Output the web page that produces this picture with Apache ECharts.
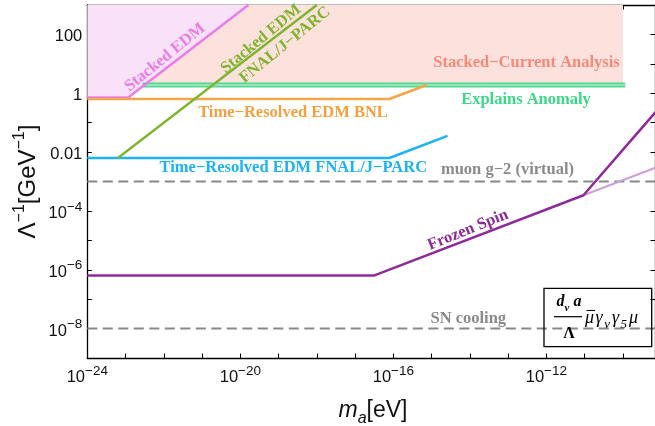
<!DOCTYPE html>
<html>
<head>
<meta charset="utf-8">
<script src="https://cdn.jsdelivr.net/npm/echarts@6/dist/echarts.min.js"></script>
<style>
  html, body { margin: 0; padding: 0; background: #fff; }
  #chart { width: 655px; height: 426px; }
</style>
</head>
<body>
<div id="chart"></div>
<script>
// Axion mass m_a in eV (x) against the coupling scale Λ^-1 in GeV^-1 (y)
const massRange = [1e-24, 6.9e-10];
const boundRange = [1e-9, 1e3];
const massLabelExponents = [-24, -20, -16, -12];
const boundLabelExponents = [2, 0, -2, -4, -6, -8];

// Stacked EDM reach (magenta, shaded above)
const stackedEdmMass = [1e-24, 1.17e-23, 1.62e-20];
const stackedEdmBound = [0.72, 0.72, 1000];

// Stacked EDM at FNAL/J-PARC
const stackedFnalMass = [6.3e-24, 1.0e-18];
const stackedFnalBound = [0.0063, 1000];

// Stacked-current analysis (shaded above)
const stackedCurrentMass = [2.8e-23, 1.0e-10];
const stackedCurrentBound = [1.9, 1.9];

// Parameter band that explains the anomaly
const anomalyMass = [2.8e-23, 1.15e-10];
const anomalyBound = [1.9, 1.9];

// Time-resolved EDM, BNL
const bnlMass = [1e-24, 7.9e-17, 7.4e-16];
const bnlBound = [0.64, 0.64, 1.9];

// Time-resolved EDM, FNAL/J-PARC
const fnalMass = [1e-24, 7.9e-17, 2.6e-15];
const fnalBound = [0.0063, 0.0063, 0.0355];

// Frozen spin method, with the two high-mass branches
const frozenMass = [1e-24, 3.2e-17, 9.3e-12, 1e-9];
const frozenBound = [6.4e-7, 6.4e-7, 3.4e-4, 0.38];
const frozenAltMass = [9.3e-12, 1e-9];
const frozenAltBound = [3.4e-4, 3.5e-3];

// Existing limits (dashed)
const muonG2Bound = 1e-3;
const snCoolingBound = 1e-8;

// Both axes are logarithmic: values are placed on decade (log10) value axes
const lg = v => Math.log10(v);
const pairs = (xs, ys) => xs.map((x, i) => [lg(x), lg(ys[i])]);
const asDecade = v => (Math.abs(v - Math.round(v)) < 1e-6 ? Math.round(v) : null);

const tickFont = 'Liberation Sans';
const tickRich = {
  b: { fontSize: 16.5, fontFamily: tickFont, color: '#111', lineHeight: 22, verticalAlign: 'bottom' },
  s: { fontSize: 13.5, fontFamily: tickFont, color: '#111', lineHeight: 10, verticalAlign: 'top' }
};
const powerLabel = e => '{b|10}{s|' + (e < 0 ? '\u2212' + (-e) : e) + '}';

const massLabel = v => {
  const e = asDecade(v);
  return e !== null && massLabelExponents.includes(e) ? powerLabel(e) : '';
};
const boundLabel = v => {
  const e = asDecade(v);
  if (e === null || !boundLabelExponents.includes(e)) return '';
  if (e === 2) return '{b|100}';
  if (e === 0) return '{b|1}';
  if (e === -2) return '{b|0.01}';
  return powerLabel(e);
};

const frameLine = { show: true, onZero: false, lineStyle: { color: '#000', width: 1.3 } };
const frameTick = { show: true, inside: true, length: 4.5, lineStyle: { color: '#000', width: 1 } };

const decadeAxis = (range, extra) => Object.assign({
  type: 'value', min: lg(range[0]), max: lg(range[1]), interval: 1,
  axisLine: frameLine, axisTick: frameTick, splitLine: { show: false },
  minorTick: { show: false }
}, extra);

const solid = (name, data, color, width, z) => ({
  name, type: 'line', data, symbol: 'none', silent: true, z: z || 3,
  lineStyle: { color, width }, animation: false
});
const shaded = (name, data, fill, z) => ({
  name, type: 'line', data, symbol: 'none', silent: true, z,
  lineStyle: { width: 0, opacity: 0 },
  areaStyle: { color: fill, opacity: 1, origin: 'end' }, animation: false
});
const dashed = (name, value) => ({
  name, type: 'line', data: [[lg(massRange[0]), lg(value)], [lg(massRange[1]), lg(value)]],
  symbol: 'none', silent: true, z: 2,
  lineStyle: { color: '#888', width: 2, type: [10, 5.5] }, animation: false
});

const serif = 'Liberation Serif';
const note = (text, x, y, color, deg) => ({
  type: 'text', x, y, rotation: (deg || 0) * Math.PI / 180, z: 20,
  style: { text, fill: color, font: 'bold 16.5px "' + serif + '"', align: 'center', verticalAlign: 'middle' }
});

const chart = echarts.init(document.getElementById('chart'), null, { renderer: 'canvas' });
chart.setOption({
  animation: false,
  backgroundColor: '#fff',
  grid: { left: 87.3, top: 5, right: 0, bottom: 68, outerBoundsMode: 'none' },
  xAxis: [
    decadeAxis(massRange, {
      position: 'bottom',
      axisLabel: { formatter: massLabel, rich: tickRich, margin: 6, showMinLabel: true, showMaxLabel: false }
    }),
    decadeAxis(massRange, { position: 'top', axisLabel: { show: false } })
  ],
  yAxis: [
    decadeAxis(boundRange, {
      position: 'left',
      axisLabel: { formatter: boundLabel, rich: tickRich, margin: 5, align: 'right' }
    }),
    decadeAxis(boundRange, { position: 'right', axisLabel: { show: false } })
  ],
  series: [
    shaded('Stacked-Current Analysis', pairs(stackedCurrentMass, stackedCurrentBound), '#fde1dc', 1),
    shaded('Stacked EDM region', pairs(stackedEdmMass, stackedEdmBound), '#f9e1f8', 1.5),
    solid('Explains Anomaly', pairs(anomalyMass, anomalyBound), '#55d891', 5, 3),
    solid('Explains Anomaly core', pairs(anomalyMass, anomalyBound), '#a4ecc4', 1.6, 3.1),
    solid('Stacked EDM', pairs(stackedEdmMass, stackedEdmBound), '#e97de8', 2.4, 4),
    solid('Time-Resolved EDM BNL', pairs(bnlMass, bnlBound), '#f2a64a', 2.6, 4),
    solid('Stacked EDM FNAL/J-PARC', pairs(stackedFnalMass, stackedFnalBound), '#7db52f', 2.4, 5),
    solid('Time-Resolved EDM FNAL/J-PARC', pairs(fnalMass, fnalBound), '#1bb3f4', 2.6, 4),
    dashed('muon g-2 (virtual)', muonG2Bound),
    dashed('SN cooling', snCoolingBound),
    solid('Frozen Spin (alt)', pairs(frozenAltMass, frozenAltBound), '#cc9fd6', 2.2, 4),
    solid('Frozen Spin', pairs(frozenMass, frozenBound), '#8e2b99', 2.5, 5)
  ],
  graphic: [
    note('Stacked EDM', 165, 57.5, '#e97de8', 39),
    note('Stacked EDM', 261, 39, '#7db52f', 39.5),
    note('FNAL/J\u2212PARC', 285, 45, '#7db52f', 39),
    note('Stacked\u2212Current Analysis', 526.5, 62.5, '#f5897a'),
    note('Time\u2212Resolved EDM BNL', 293, 112.7, '#f2a040'),
    note('Explains Anomaly', 526, 100, '#3cd788'),
    note('Time\u2212Resolved EDM FNAL/J\u2212PARC', 293.3, 167.3, '#1bb3f4'),
    note('muon g\u22122 (virtual)', 507.5, 169.3, '#8a8a8a'),
    note('SN cooling', 468.3, 318.3, '#8a8a8a'),
    note('Frozen Spin', 468, 230, '#8e2b99', 22),
    // coupling term in the corner box
    { type: 'rect', shape: { x: 544, y: 288.3, width: 107.7, height: 58.4 }, z: 20,
      style: { fill: 'none', stroke: '#000', lineWidth: 1.3 } },
    { type: 'text', x: 569, y: 304, z: 21,
      style: { text: '{v|d}{sub|\u03bd}{v| a}', align: 'center', verticalAlign: 'middle',
        rich: {
          v: { font: 'bold italic 16px "' + serif + '"', fill: '#000', lineHeight: 20, verticalAlign: 'top' },
          sub: { font: 'bold italic 11px "' + serif + '"', fill: '#000', lineHeight: 11, verticalAlign: 'bottom' }
        } } },
    { type: 'line', shape: { x1: 554, y1: 316.7, x2: 582, y2: 316.7 }, z: 21,
      style: { stroke: '#000', lineWidth: 1.2 } },
    { type: 'text', x: 569, y: 334, z: 21,
      style: { text: '\u039b', font: 'bold 16px "' + serif + '"', fill: '#000', align: 'center', verticalAlign: 'middle' } },
    { type: 'text', x: 585, y: 320, z: 21,
      style: { text: '{v|\u03bc}{v|\u03b3}{sub|\u03bd}{v|\u03b3}{sub|5}{v|\u03bc}', align: 'left', verticalAlign: 'middle',
        rich: {
          v: { font: 'italic 18px "' + serif + '"', fill: '#000', lineHeight: 22, verticalAlign: 'top', padding: [0, 1.5, 0, 0] },
          sub: { font: 'italic 13px "' + serif + '"', fill: '#000', lineHeight: 13, verticalAlign: 'bottom', padding: [0, 2, 0, 0] }
        } } },
    { type: 'line', shape: { x1: 586.5, y1: 310.5, x2: 595, y2: 310.5 }, z: 21,
      style: { stroke: '#000', lineWidth: 1 } },
    // axis titles
    { type: 'text', x: 373, y: 413, z: 21,
      style: { text: '{m|m}{a|a}{u|[eV]}', align: 'center', verticalAlign: 'middle',
        rich: {
          m: { font: 'italic 23px "' + tickFont + '"', fill: '#111', lineHeight: 27, verticalAlign: 'top' },
          a: { font: 'italic 16px "' + tickFont + '"', fill: '#111', lineHeight: 16, verticalAlign: 'bottom' },
          u: { font: '23px "' + tickFont + '"', fill: '#111', lineHeight: 27, verticalAlign: 'top' }
        } } },
    { type: 'text', x: 26, y: 181.5, rotation: Math.PI / 2, z: 21,
      style: { text: '{b|\u039b}{s|\u22121}{b|[GeV}{s|\u22121}{b|]}', align: 'center', verticalAlign: 'middle',
        rich: {
          b: { font: '24px "' + tickFont + '"', fill: '#111', lineHeight: 28, verticalAlign: 'bottom' },
          s: { font: '16px "' + tickFont + '"', fill: '#111', lineHeight: 15, verticalAlign: 'top' }
        } } }
  ]
});
</script>
</body>
</html>
